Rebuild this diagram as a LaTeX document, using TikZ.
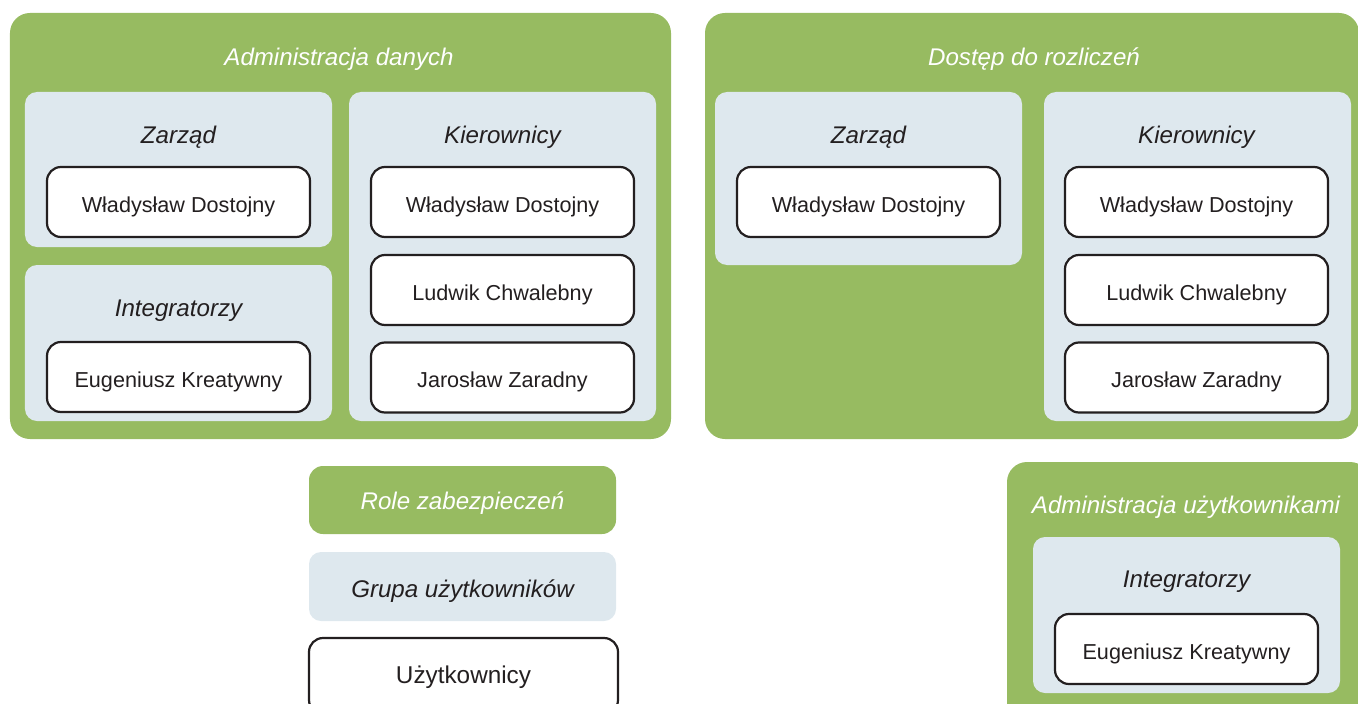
\documentclass[tikz,border=0pt]{standalone}
\usepackage{fontspec}
\setmainfont{Liberation Sans}
\definecolor{rolegreen}{RGB}{151,187,97}
\definecolor{grouplight}{RGB}{222,232,238}
\definecolor{ink}{RGB}{35,31,32}
\begin{document}
\begin{tikzpicture}[x=1bp,y=-1bp,
  role/.style={fill=rolegreen, rounded corners=20bp, inner sep=0},
  group/.style={fill=grouplight, rounded corners=12bp, inner sep=0},
  member/.style={draw=ink, fill=white, line width=2.2bp, rounded corners=14bp,
    minimum width=263bp, minimum height=70bp, inner sep=0,
    text height=20bp, text depth=0bp,
    font=\fontsize{21.7}{26}\selectfont, text=ink},
  roletitle/.style={font=\fontsize{24.2}{29}\selectfont\itshape, text=white, inner sep=0},
  grouptitle/.style={font=\fontsize{24.2}{29}\selectfont\itshape, text=ink, inner sep=0},
]
\useasboundingbox (0,0) rectangle (1358,703);
\clip (0,0) rectangle (1358,703);

% --- Administracja danych ---
\node[role, minimum width=661bp, minimum height=426bp] (adm) at (340.5,226) {};
\node[roletitle] (admT) at (339,59) {Administracja danych};
\node[group, minimum width=307bp, minimum height=155bp] (admZ) at (178.5,169.5) {};
\node[grouptitle] (admZT) at (178.5,137) {Zarząd};
\node[member] (admZ1) at (178.5,202) {Władysław Dostojny};
\node[group, minimum width=307bp, minimum height=156bp] (admI) at (178.5,343) {};
\node[grouptitle] (admIT) at (178.5,311) {Integratorzy};
\node[member] (admI1) at (178.5,377) {Eugeniusz Kreatywny};
\node[group, minimum width=307bp, minimum height=329bp] (admK) at (502.5,256.5) {};
\node[grouptitle] (admKT) at (502.5,137) {Kierownicy};
\node[member] (admK1) at (502.5,202) {Władysław Dostojny};
\node[member] (admK2) at (502.5,290) {Ludwik Chwalebny};
\node[member] (admK3) at (502.5,377.5) {Jarosław Zaradny};

% --- Dostęp do rozliczeń ---
\node[role, minimum width=654bp, minimum height=426bp] (dost) at (1032,226) {};
\node[roletitle] (dostT) at (1034,59) {Dostęp do rozliczeń};
\node[group, minimum width=307bp, minimum height=173bp] (dostZ) at (868.5,178.5) {};
\node[grouptitle] (dostZT) at (868.5,137) {Zarząd};
\node[member] (dostZ1) at (868.5,202) {Władysław Dostojny};
\node[group, minimum width=307bp, minimum height=329bp] (dostK) at (1197.5,256.5) {};
\node[grouptitle] (dostKT) at (1196.5,137) {Kierownicy};
\node[member] (dostK1) at (1196.5,202) {Władysław Dostojny};
\node[member] (dostK2) at (1196.5,290) {Ludwik Chwalebny};
\node[member] (dostK3) at (1196.5,377.5) {Jarosław Zaradny};

% --- Administracja użytkownikami ---
\node[role, minimum width=363bp, minimum height=268bp] (usr) at (1188.5,596) {};
\node[roletitle] (usrT) at (1186,507) {Administracja użytkownikami};
\node[group, minimum width=307bp, minimum height=156bp] (usrI) at (1186.5,615) {};
\node[grouptitle] (usrIT) at (1186.5,582) {Integratorzy};
\node[member] (usrI1) at (1186.5,649) {Eugeniusz Kreatywny};

% --- legend ---
\node[role, rounded corners=14bp, minimum width=307bp, minimum height=68bp] (legR) at (462.5,500) {};
\node[roletitle] (legRT) at (462.5,503) {Role zabezpieczeń};
\node[group, minimum width=307bp, minimum height=69bp] (legG) at (462.5,586.5) {};
\node[grouptitle] (legGT) at (462.5,591) {Grupa użytkowników};
\node[member, minimum width=309bp, minimum height=76bp,
  font=\fontsize{24.4}{29}\selectfont, text height=14bp, text depth=0bp]
  (legU) at (463.5,676) {Użytkownicy};
\end{tikzpicture}
\end{document}
